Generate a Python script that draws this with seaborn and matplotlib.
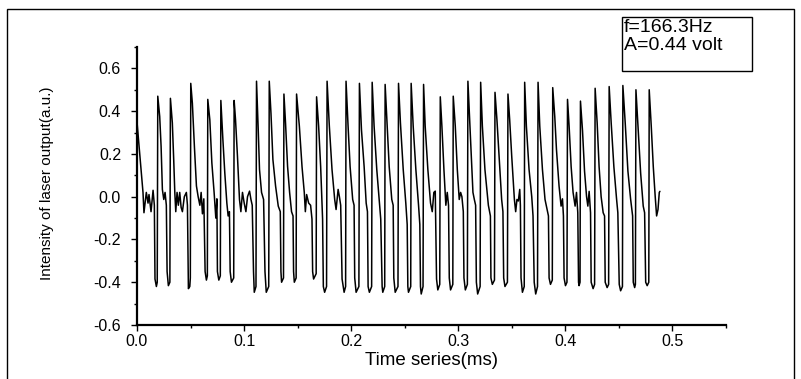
import matplotlib
matplotlib.use("Agg")
import matplotlib.pyplot as plt
from matplotlib.patches import Rectangle
from matplotlib.ticker import MultipleLocator
import seaborn as sns
import pandas as pd

# Time (ms) and laser intensity (a.u.) vertices
time_ms = [
    0.0000, 0.0035, 0.0056, 0.0065, 0.0087, 0.0103, 0.0112, 0.0131, 0.0150, 0.0162, 0.0168, 0.0181, 0.0189,
    0.0194, 0.0212, 0.0225, 0.0237, 0.0250, 0.0262, 0.0274, 0.0281, 0.0293, 0.0307,
    0.0312, 0.0330, 0.0343, 0.0353, 0.0362, 0.0374, 0.0386, 0.0399, 0.0412, 0.0424, 0.0442, 0.0461, 0.0471, 0.0480, 0.0493, 0.0498,
    0.0502, 0.0517, 0.0536, 0.0555, 0.0571, 0.0587, 0.0599, 0.0611, 0.0624, 0.0636, 0.0648, 0.0657,
    0.0661, 0.0680, 0.0699, 0.0720, 0.0736, 0.0746, 0.0751, 0.0764, 0.0778,
    0.0783, 0.0802, 0.0820, 0.0839, 0.0851, 0.0863, 0.0870, 0.0882, 0.0903,
    0.0907, 0.0920, 0.0938, 0.0957, 0.0970, 0.0985, 0.1001, 0.1017, 0.1032, 0.1051, 0.1064, 0.1076, 0.1088, 0.1095, 0.1111,
    0.1116, 0.1132, 0.1144, 0.1163, 0.1182, 0.1195, 0.1207, 0.1230,
    0.1235, 0.1251, 0.1269, 0.1294, 0.1319, 0.1338, 0.1344, 0.1350, 0.1368,
    0.1372, 0.1387, 0.1406, 0.1425, 0.1443, 0.1457, 0.1462, 0.1469, 0.1486,
    0.1490, 0.1516, 0.1541, 0.1562, 0.1572, 0.1584, 0.1603, 0.1621, 0.1634, 0.1640, 0.1649, 0.1673,
    0.1677, 0.1696, 0.1715, 0.1733, 0.1740, 0.1752, 0.1770,
    0.1775, 0.1796, 0.1821, 0.1846, 0.1859, 0.1878, 0.1890, 0.1902, 0.1915, 0.1934, 0.1948,
    0.1952, 0.1971, 0.1990, 0.2014, 0.2027, 0.2033, 0.2046, 0.2072,
    0.2077, 0.2096, 0.2121, 0.2140, 0.2152, 0.2158, 0.2170, 0.2191,
    0.2196, 0.2214, 0.2239, 0.2264, 0.2276, 0.2289, 0.2295, 0.2313,
    0.2317, 0.2336, 0.2355, 0.2379, 0.2392, 0.2398, 0.2411, 0.2437,
    0.2442, 0.2460, 0.2486, 0.2510, 0.2523, 0.2529, 0.2535, 0.2556,
    0.2560, 0.2579, 0.2604, 0.2629, 0.2641, 0.2647, 0.2654, 0.2671,
    0.2676, 0.2691, 0.2716, 0.2741, 0.2757, 0.2772, 0.2785, 0.2797, 0.2809, 0.2827,
    0.2832, 0.2847, 0.2866, 0.2884, 0.2897, 0.2909, 0.2916, 0.2928, 0.2949,
    0.2953, 0.2972, 0.2991, 0.3009, 0.3022, 0.3034, 0.3047, 0.3053, 0.3066, 0.3085,
    0.3090, 0.3109, 0.3125, 0.3137, 0.3150, 0.3162, 0.3169, 0.3181, 0.3204,
    0.3209, 0.3225, 0.3249, 0.3281, 0.3300, 0.3305, 0.3318, 0.3338,
    0.3343, 0.3361, 0.3387, 0.3405, 0.3417, 0.3424, 0.3436, 0.3459,
    0.3464, 0.3480, 0.3499, 0.3524, 0.3536, 0.3548, 0.3561, 0.3574, 0.3580, 0.3586, 0.3599, 0.3616,
    0.3620, 0.3636, 0.3661, 0.3686, 0.3698, 0.3709, 0.3723, 0.3740,
    0.3745, 0.3761, 0.3786, 0.3810, 0.3829, 0.3842, 0.3848, 0.3861, 0.3878,
    0.3882, 0.3901, 0.3917, 0.3941, 0.3960, 0.3973, 0.3982, 0.3988, 0.4001, 0.4015,
    0.4020, 0.4035, 0.4054, 0.4072, 0.4091, 0.4104, 0.4116, 0.4123, 0.4128, 0.4137,
    0.4141, 0.4160, 0.4179, 0.4198, 0.4210, 0.4222, 0.4235, 0.4241, 0.4259, 0.4273,
    0.4278, 0.4297, 0.4315, 0.4334, 0.4353, 0.4366, 0.4372, 0.4390, 0.4404,
    0.4409, 0.4428, 0.4453, 0.4478, 0.4490, 0.4503, 0.4516, 0.4533,
    0.4537, 0.4559, 0.4584, 0.4609, 0.4628, 0.4634, 0.4647, 0.4654,
    0.4659, 0.4678, 0.4703, 0.4727, 0.4740, 0.4750, 0.4764, 0.4779,
    0.4783, 0.4802, 0.4821, 0.4839, 0.4852, 0.4865, 0.4877, 0.4883,
]

intensity = [
    0.350, 0.140, 0.020, -0.075, 0.020, -0.030, 0.010, -0.070, 0.030, -0.040, -0.385, -0.420, -0.400,
    0.470, 0.375, 0.235, 0.034, -0.013, 0.020, -0.040, -0.350, -0.416, -0.400,
    0.460, 0.345, 0.170, 0.020, -0.070, 0.020, -0.040, 0.020, -0.050, -0.070, 0.000, 0.020, -0.040, -0.430, -0.420, -0.380,
    0.530, 0.437, 0.235, 0.050, 0.000, -0.040, 0.020, -0.080, -0.010, -0.350, -0.390, -0.370,
    0.455, 0.360, 0.158, 0.020, -0.100, -0.010, -0.350, -0.390, -0.370,
    0.450, 0.267, 0.110, -0.030, -0.090, -0.070, -0.350, -0.400, -0.380,
    0.450, 0.360, 0.190, -0.013, -0.070, 0.020, -0.030, -0.070, 0.000, 0.026, -0.013, -0.040, -0.350, -0.447, -0.420,
    0.540, 0.313, 0.127, 0.020, -0.013, -0.350, -0.447, -0.420,
    0.540, 0.390, 0.174, 0.050, -0.044, -0.070, -0.350, -0.400, -0.380,
    0.480, 0.344, 0.142, 0.020, -0.070, -0.090, -0.350, -0.400, -0.380,
    0.480, 0.330, 0.140, 0.020, -0.070, 0.010, -0.030, -0.040, -0.105, -0.350, -0.385, -0.360,
    0.467, 0.330, 0.140, -0.105, -0.420, -0.447, -0.420,
    0.540, 0.330, 0.127, -0.013, -0.060, 0.034, 0.000, -0.040, -0.385, -0.447, -0.420,
    0.540, 0.330, 0.140, -0.013, -0.040, -0.380, -0.447, -0.420,
    0.530, 0.313, 0.140, -0.030, -0.070, -0.420, -0.447, -0.420,
    0.535, 0.330, 0.127, -0.030, -0.105, -0.420, -0.447, -0.420,
    0.525, 0.330, 0.140, -0.013, -0.040, -0.380, -0.447, -0.420,
    0.530, 0.344, 0.127, -0.030, -0.130, -0.420, -0.447, -0.420,
    0.530, 0.330, 0.127, -0.040, -0.130, -0.420, -0.455, -0.420,
    0.525, 0.330, 0.127, -0.030, -0.070, 0.020, 0.026, -0.385, -0.436, -0.410,
    0.467, 0.330, 0.127, -0.040, 0.020, -0.040, -0.380, -0.436, -0.410,
    0.470, 0.330, 0.127, -0.013, 0.020, 0.000, -0.070, -0.380, -0.436, -0.410,
    0.540, 0.330, 0.150, 0.020, -0.013, -0.040, -0.400, -0.455, -0.420,
    0.535, 0.330, 0.127, -0.040, -0.090, -0.380, -0.410, -0.390,
    0.488, 0.360, 0.140, -0.013, -0.070, -0.380, -0.420, -0.400,
    0.480, 0.360, 0.190, -0.013, -0.070, -0.013, -0.020, 0.034, -0.040, -0.380, -0.447, -0.420,
    0.535, 0.330, 0.127, 0.000, -0.090, -0.400, -0.455, -0.420,
    0.535, 0.330, 0.127, -0.013, -0.060, -0.090, -0.380, -0.410, -0.390,
    0.510, 0.375, 0.220, 0.050, -0.044, -0.010, -0.090, -0.380, -0.416, -0.400,
    0.455, 0.330, 0.140, 0.020, -0.044, 0.020, -0.075, -0.400, -0.416, -0.400,
    0.447, 0.310, 0.120, 0.000, -0.044, 0.025, -0.075, -0.400, -0.430, -0.410,
    0.507, 0.344, 0.140, 0.000, -0.075, -0.090, -0.400, -0.425, -0.410,
    0.515, 0.344, 0.140, -0.010, -0.075, -0.410, -0.440, -0.420,
    0.520, 0.344, 0.120, -0.010, -0.090, -0.400, -0.425, -0.410,
    0.500, 0.330, 0.110, -0.044, -0.075, -0.400, -0.416, -0.400,
    0.500, 0.330, 0.140, 0.000, -0.090, -0.060, 0.020, 0.025,
]

x_ticks = [0.0, 0.1, 0.2, 0.3, 0.4, 0.5]
y_ticks = [-0.6, -0.4, -0.2, 0.0, 0.2, 0.4, 0.6]
x_label = "Time series(ms)"
y_label = "Intensity of laser output(a.u.)"
note_lines = ["f=166.3Hz", "A=0.44 volt"]

df = pd.DataFrame({"t": time_ms, "v": intensity})

sns.set_theme(style="ticks")
plt.rcParams["font.family"] = ["Liberation Sans", "DejaVu Sans"]

W, H = 801, 379
fig = plt.figure(figsize=(W / 100, H / 100), dpi=100)
ax_l, ax_r, ax_b, ax_t = 137, 726, 325, 47
ax = fig.add_axes([ax_l / W, 1 - ax_b / H, (ax_r - ax_l) / W, (ax_b - ax_t) / H])

sns.lineplot(data=df, x="t", y="v", ax=ax, sort=False, estimator=None,
             color="black", linewidth=1.1)

ax.set_xlim(0.0, 0.55)
ax.set_ylim(-0.6, 0.7)
ax.set_xticks(x_ticks)
ax.set_xticklabels([f"{v:.1f}" for v in x_ticks])
ax.set_yticks(y_ticks)
ax.set_yticklabels([f"{v:.1f}" for v in y_ticks])
ax.xaxis.set_minor_locator(MultipleLocator(0.05))
ax.yaxis.set_minor_locator(MultipleLocator(0.1))
ax.tick_params(axis="both", which="major", direction="out", length=4.5, width=1.0,
               labelsize=11.5, color="black", labelcolor="black")
ax.tick_params(axis="x", which="major", pad=2)
ax.tick_params(axis="y", which="major", pad=7)
ax.tick_params(axis="both", which="minor", direction="out", length=2.5, width=1.0, color="black")

for side in ["top", "right"]:
    ax.spines[side].set_visible(False)
for side in ["left", "bottom"]:
    ax.spines[side].set_linewidth(1.6)
    ax.spines[side].set_color("black")

ax.set_xlabel(x_label, fontsize=13.5, color="black")
ax.set_ylabel(y_label, fontsize=11, color="black")
ax.xaxis.set_label_coords(0.5, -0.128, transform=ax.transAxes)
ax.yaxis.set_label_coords(-0.153, 0.51, transform=ax.transAxes)
ax.xaxis.label.set_va("center")
ax.yaxis.label.set_va("center")

# annotation box
bx0, bx1, by0, by1 = 622, 752, 17, 71
fig.add_artist(Rectangle((bx0 / W, 1 - by1 / H), (bx1 - bx0) / W, (by1 - by0) / H,
                         transform=fig.transFigure, fill=False, edgecolor="black", linewidth=1.0))
fig.text(624 / W, 1 - 28 / H, note_lines[0], fontsize=14, va="center", ha="left", color="black")
fig.text(624 / W, 1 - 46 / H, note_lines[1], fontsize=14, va="center", ha="left", color="black")

# outer frame
fig.add_artist(Rectangle((7 / W, -0.05), (794 - 7) / W, 1.05 - 9 / H,
                         transform=fig.transFigure, fill=False, edgecolor="black", linewidth=1.0))

fig.savefig("out.png", dpi=100)
